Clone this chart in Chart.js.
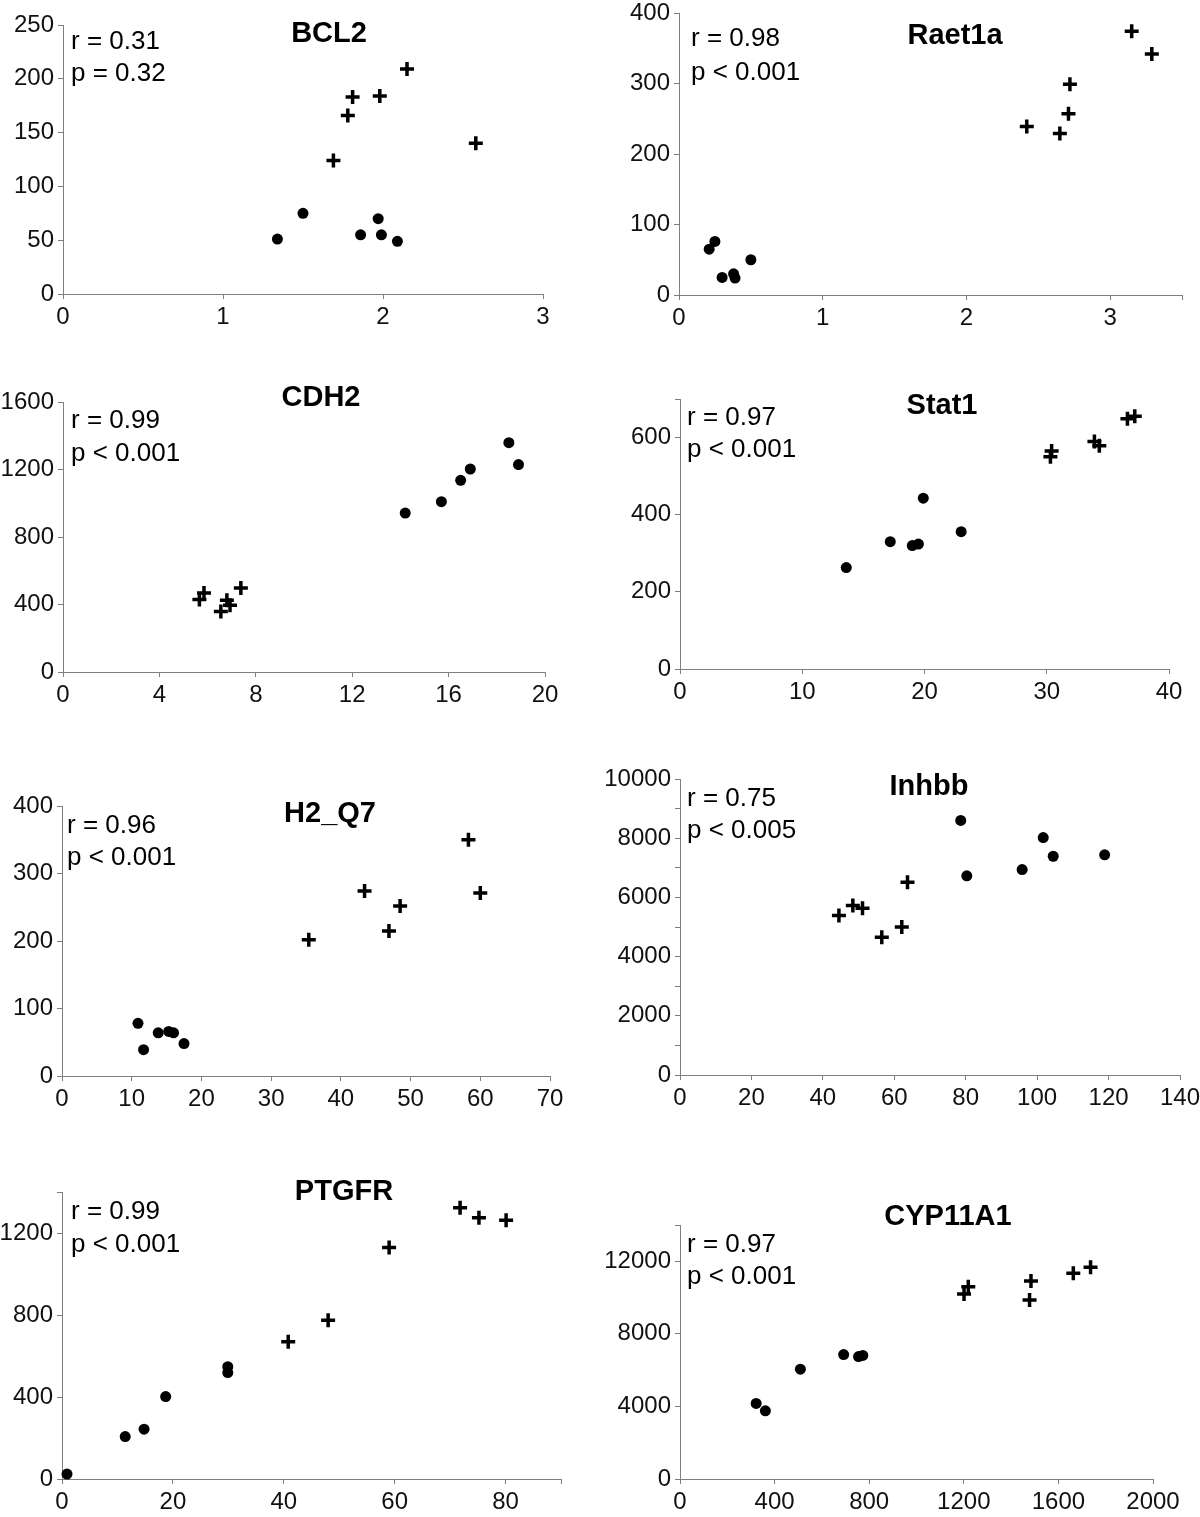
<!DOCTYPE html>
<html lang="en">
<head>
<meta charset="UTF-8">
<title>Gene expression correlations</title>
<script src="https://cdn.jsdelivr.net/npm/chart.js"></script>
<style>
  body { margin: 0; background: #fff; }
  #page { position: relative; width: 1200px; height: 1517px; overflow: hidden; background: #fff;
          font-family: "Liberation Sans", Arial, sans-serif; color: #000; }
  canvas { position: absolute; }
  .title { position: absolute; font-weight: bold; font-size: 29px; line-height: 1;
           transform: translate(-50%, -50%); white-space: nowrap; }
  .stat { position: absolute; font-size: 26px; line-height: 1;
          transform: translateY(-50%); white-space: nowrap; }
</style>
</head>
<body>
<div id="page"></div>
<script>
// ---- data: [x, y] pairs, dots = circle group, plus = cross group ----
const bcl2Dots = [[1.34, 51], [1.50, 75], [1.86, 55], [1.97, 70], [1.99, 55], [2.09, 49]];
const bcl2Plus = [[1.69, 124], [1.78, 166], [1.81, 183], [1.98, 184], [2.15, 209], [2.58, 140]];

const raetDots = [[0.21, 65], [0.25, 76], [0.30, 25], [0.38, 30], [0.39, 24], [0.50, 50]];
const raetPlus = [[2.42, 239], [2.65, 229], [2.71, 257], [2.72, 299], [3.15, 374], [3.29, 342]];

const cdh2Dots = [[14.2, 942], [15.7, 1009], [16.5, 1136], [16.9, 1203], [18.5, 1359], [18.9, 1229]];
const cdh2Plus = [[5.66, 429], [5.85, 468], [6.55, 358], [6.8, 425], [6.93, 395], [7.38, 498]];

const stat1Dots = [[13.6, 263], [17.2, 330], [19.0, 320], [19.5, 324], [19.9, 443], [23.0, 356]];
const stat1Plus = [[30.3, 550], [30.4, 565], [33.9, 590], [34.3, 579], [36.6, 649], [37.2, 655]];

const h2q7Dots = [[10.9, 78], [11.7, 39], [13.8, 64], [15.3, 66], [16.0, 64], [17.5, 48]];
const h2q7Plus = [[35.4, 202], [43.4, 274], [46.9, 215], [48.5, 252], [58.3, 350], [60.0, 271]];

const inhbbDots = [[78.6, 8600], [80.3, 6730], [95.8, 6940], [101.7, 8020], [104.5, 7390], [118.9, 7440]];
const inhbbPlus = [[44.5, 5390], [48.4, 5730], [51.1, 5630], [56.5, 4650], [62.1, 5000], [63.7, 6510]];

const ptgfrDots = [[0.9, 24], [11.4, 207], [14.8, 243], [18.7, 402], [29.9, 548], [29.9, 519]];
const ptgfrPlus = [[40.8, 670], [48.0, 775], [59.0, 1129], [71.8, 1323], [75.2, 1275], [80.1, 1262]];

const cypDots = [[322, 4165], [361, 3760], [509, 6055], [692, 6860], [755, 6750], [773, 6810]];
const cypPlus = [[1201, 10200], [1219, 10590], [1478, 9870], [1484, 10920], [1663, 11340], [1736, 11670]];

// ---- tick values (all marks) and which of them carry a label ----
const bcl2XTicks = [0, 1, 2, 3],            bcl2XLabels = [0, 1, 2, 3];
const bcl2YTicks = [0, 50, 100, 150, 200, 250], bcl2YLabels = [0, 50, 100, 150, 200, 250];
const raetXTicks = [0, 1, 2, 3, 3.5],       raetXLabels = [0, 1, 2, 3];
const raetYTicks = [0, 100, 200, 300, 400], raetYLabels = [0, 100, 200, 300, 400];
const cdh2XTicks = [0, 4, 8, 12, 16, 20],   cdh2XLabels = [0, 4, 8, 12, 16, 20];
const cdh2YTicks = [0, 400, 800, 1200, 1600], cdh2YLabels = [0, 400, 800, 1200, 1600];
const stat1XTicks = [0, 10, 20, 30, 40],    stat1XLabels = [0, 10, 20, 30, 40];
const stat1YTicks = [0, 200, 400, 600, 700], stat1YLabels = [0, 200, 400, 600];
const h2q7XTicks = [0, 10, 20, 30, 40, 50, 60, 70], h2q7XLabels = [0, 10, 20, 30, 40, 50, 60, 70];
const h2q7YTicks = [0, 100, 200, 300, 400], h2q7YLabels = [0, 100, 200, 300, 400];
const inhbbXTicks = [0, 20, 40, 60, 80, 100, 120, 140], inhbbXLabels = [0, 20, 40, 60, 80, 100, 120, 140];
const inhbbYTicks = [0, 1000, 2000, 3000, 4000, 5000, 6000, 7000, 8000, 9000, 10000];
const inhbbYLabels = [0, 2000, 4000, 6000, 8000, 10000];
const ptgfrXTicks = [0, 20, 40, 60, 80, 90], ptgfrXLabels = [0, 20, 40, 60, 80];
const ptgfrYTicks = [0, 400, 800, 1200, 1400], ptgfrYLabels = [0, 400, 800, 1200];
const cypXTicks = [0, 400, 800, 1200, 1600, 2000], cypXLabels = [0, 400, 800, 1200, 1600, 2000];
const cypYTicks = [0, 4000, 8000, 12000, 14000], cypYLabels = [0, 4000, 8000, 12000];

// ---- layout of each panel: plot box [left, right, top, bottom] in page px ----
const panels = [
  { title: 'BCL2', r: 'r = 0.31', p: 'p = 0.32', dots: bcl2Dots, plus: bcl2Plus,
    xt: bcl2XTicks, xl: bcl2XLabels, yt: bcl2YTicks, yl: bcl2YLabels,
    box: [63, 543, 25, 294], titleAt: [329, 32], statAt: [71, 40, 72] },
  { title: 'Raet1a', r: 'r = 0.98', p: 'p < 0.001', dots: raetDots, plus: raetPlus,
    xt: raetXTicks, xl: raetXLabels, yt: raetYTicks, yl: raetYLabels,
    box: [679, 1182, 13, 295], titleAt: [955, 34], statAt: [691, 37, 71] },
  { title: 'CDH2', r: 'r = 0.99', p: 'p < 0.001', dots: cdh2Dots, plus: cdh2Plus,
    xt: cdh2XTicks, xl: cdh2XLabels, yt: cdh2YTicks, yl: cdh2YLabels,
    box: [63, 545, 402, 672], titleAt: [321, 396], statAt: [71, 419, 452] },
  { title: 'Stat1', r: 'r = 0.97', p: 'p < 0.001', dots: stat1Dots, plus: stat1Plus,
    xt: stat1XTicks, xl: stat1XLabels, yt: stat1YTicks, yl: stat1YLabels,
    box: [680, 1169, 399, 669], titleAt: [942, 404], statAt: [687, 416, 448] },
  { title: 'H2_Q7', r: 'r = 0.96', p: 'p < 0.001', dots: h2q7Dots, plus: h2q7Plus,
    xt: h2q7XTicks, xl: h2q7XLabels, yt: h2q7YTicks, yl: h2q7YLabels,
    box: [62, 550, 806, 1076], titleAt: [330, 812], statAt: [67, 824, 856] },
  { title: 'Inhbb', r: 'r = 0.75', p: 'p < 0.005', dots: inhbbDots, plus: inhbbPlus,
    xt: inhbbXTicks, xl: inhbbXLabels, yt: inhbbYTicks, yl: inhbbYLabels,
    box: [680, 1180, 779, 1075], titleAt: [929, 785], statAt: [687, 797, 829] },
  { title: 'PTGFR', r: 'r = 0.99', p: 'p < 0.001', dots: ptgfrDots, plus: ptgfrPlus,
    xt: ptgfrXTicks, xl: ptgfrXLabels, yt: ptgfrYTicks, yl: ptgfrYLabels,
    box: [62, 561, 1192, 1479], titleAt: [344, 1190], statAt: [71, 1210, 1243] },
  { title: 'CYP11A1', r: 'r = 0.97', p: 'p < 0.001', dots: cypDots, plus: cypPlus,
    xt: cypXTicks, xl: cypXLabels, yt: cypYTicks, yl: cypYLabels,
    box: [680, 1153, 1225, 1479], titleAt: [948, 1215], statAt: [687, 1243, 1275] }
];

const Y_W = 80, X_H = 45, PAD_R = 40, PAD_T = 20;
const axisGrey = '#7f7f7f';
const tickFont = { family: '"Liberation Sans", Arial, sans-serif', size: 24 };

function makeAxis(tickVals, labelVals, isX) {
  return {
    type: 'linear',
    position: isX ? 'bottom' : 'left',
    min: tickVals[0],
    max: tickVals[tickVals.length - 1],
    afterBuildTicks: s => { s.ticks = tickVals.map(v => ({ value: v })); },
    afterFit: s => { if (isX) s.height = X_H; else s.width = Y_W; },
    grid: { drawOnChartArea: false, drawTicks: true, tickLength: 5, color: axisGrey, lineWidth: 1 },
    border: { display: true, color: axisGrey, width: 1 },
    ticks: {
      autoSkip: false, maxRotation: 0, minRotation: 0, padding: 4,
      color: '#111', font: tickFont,
      callback: v => labelVals.includes(v) ? String(v) : ''
    }
  };
}

const page = document.getElementById('page');

panels.forEach(p => {
  const [x0, x1, yTop, yBot] = p.box;
  const canvas = document.createElement('canvas');
  const w = x1 - x0 + Y_W + PAD_R;
  const h = yBot - yTop + PAD_T + X_H;
  canvas.width = w;
  canvas.height = h;
  canvas.style.left = (x0 - Y_W) + 'px';
  canvas.style.top = (yTop - PAD_T) + 'px';
  canvas.style.width = w + 'px';
  canvas.style.height = h + 'px';
  page.appendChild(canvas);

  new Chart(canvas.getContext('2d'), {
    type: 'scatter',
    data: {
      datasets: [
        {
          data: p.dots.map(([x, y]) => ({ x, y })),
          pointStyle: 'circle', pointRadius: 5.5,
          backgroundColor: '#000', borderColor: '#000', borderWidth: 0,
          clip: false
        },
        {
          data: p.plus.map(([x, y]) => ({ x, y })),
          pointStyle: 'cross', pointRadius: 7,
          borderColor: '#000', borderWidth: 3.5,
          clip: false
        }
      ]
    },
    options: {
      responsive: false,
      animation: false,
      events: [],
      layout: { padding: { left: 0, right: PAD_R, top: PAD_T, bottom: 0 } },
      plugins: { legend: { display: false }, tooltip: { enabled: false } },
      scales: { x: makeAxis(p.xt, p.xl, true), y: makeAxis(p.yt, p.yl, false) }
    }
  });

  const t = document.createElement('div');
  t.className = 'title';
  t.textContent = p.title;
  t.style.left = p.titleAt[0] + 'px';
  t.style.top = p.titleAt[1] + 'px';
  page.appendChild(t);

  [p.r, p.p].forEach((txt, i) => {
    const s = document.createElement('div');
    s.className = 'stat';
    s.textContent = txt;
    s.style.left = p.statAt[0] + 'px';
    s.style.top = p.statAt[i + 1] + 'px';
    page.appendChild(s);
  });
});
</script>
</body>
</html>
